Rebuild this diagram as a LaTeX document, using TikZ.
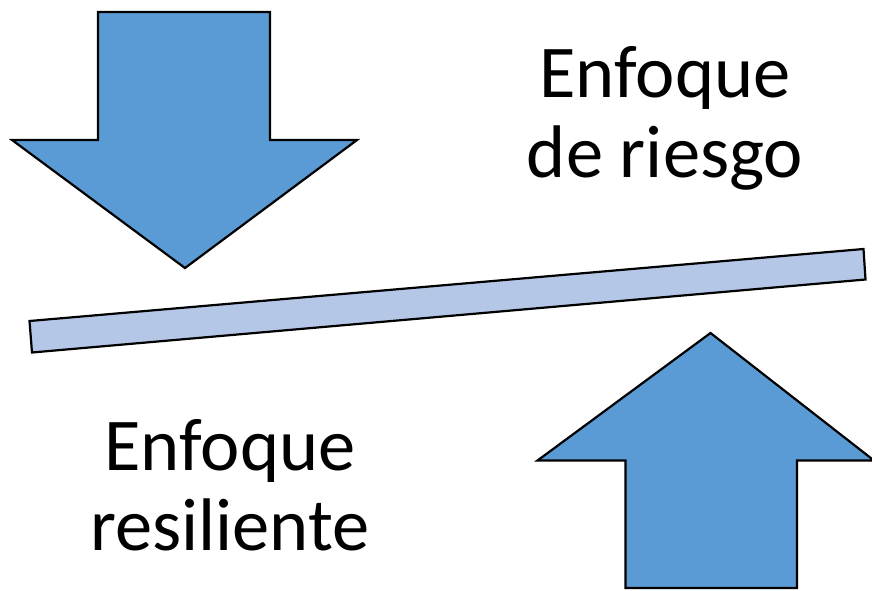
\documentclass[tikz,border=0pt]{standalone}
\usepackage{fontspec}
\setmainfont{Carlito}
\definecolor{arrowblue}{HTML}{5B9BD5}
\definecolor{barblue}{HTML}{B4C7E7}
\begin{document}
\begin{tikzpicture}[x=1pt,y=1pt,
  shapeline/.style={draw=black,line width=2.2pt,line join=miter},
  label/.style={font=\fontsize{74.5}{80}\selectfont,align=center,anchor=base,inner sep=0pt}]
\useasboundingbox (0,0) rectangle (872,590);
% down arrow
\filldraw[shapeline,fill=arrowblue] (98,578) -- (270,578) -- (270,450) -- (357,450) -- (185,322) -- (12,450) -- (98,450) -- cycle;
% bar
\filldraw[shapeline,fill=barblue] (29.5,269) -- (863.5,341) -- (865.5,310.5) -- (32,237.5) -- cycle;
% up arrow
\filldraw[shapeline,fill=arrowblue] (710.5,257) -- (874,129.5) -- (797,129.5) -- (797,2) -- (625.5,2) -- (625.5,129.5) -- (537.5,129.5) -- cycle;
\node[label] (riesgo) at (665,412) {Enfoque\\de riesgo};
\node[label] (resiliente) at (230,40) {Enfoque\\resiliente};
\end{tikzpicture}
\end{document}
